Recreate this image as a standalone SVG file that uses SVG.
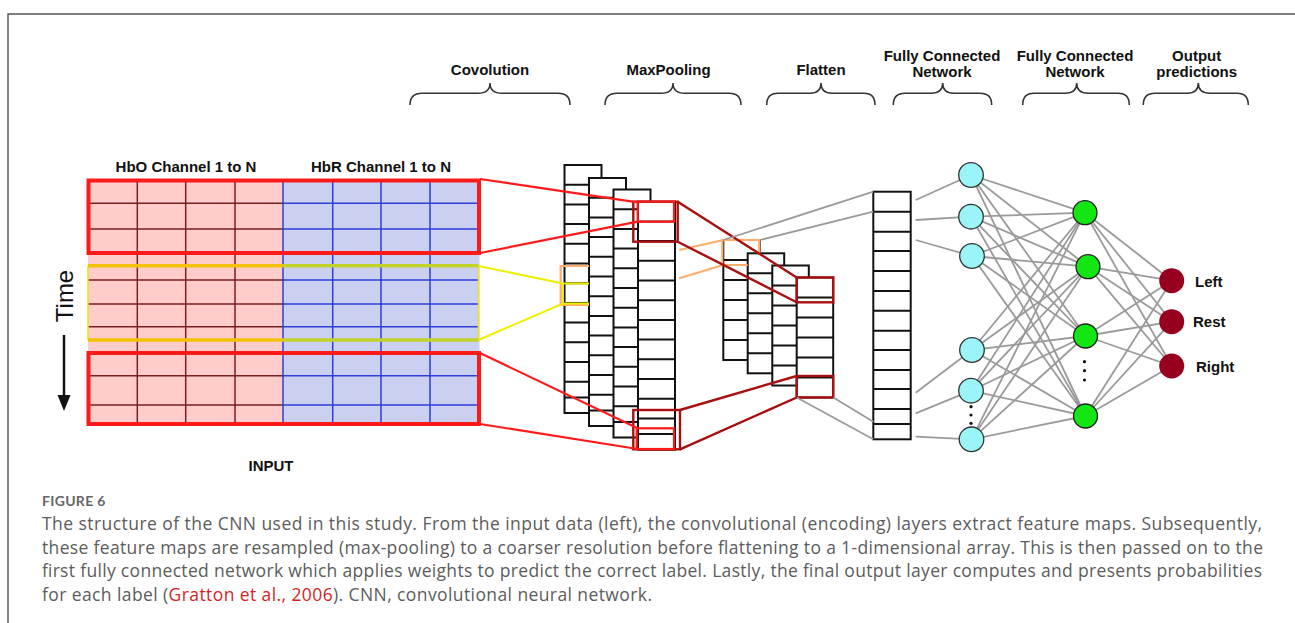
<svg xmlns="http://www.w3.org/2000/svg" xmlns:xlink="http://www.w3.org/1999/xlink" width="1295" height="623" viewBox="0 0 1295 623">
  <style>
    .hdr { font-family: "Liberation Sans", Arial, sans-serif; font-weight: bold; font-size: 15px; fill: #111; text-anchor: middle; }
    .lbl { font-family: "Liberation Sans", Arial, sans-serif; font-weight: bold; font-size: 15px; fill: #111; }
    .brace { fill: none; stroke: #333; stroke-width: 1.5; }
    .cell { fill: #fff; stroke: #111; stroke-width: 2; }
    .row { stroke: #111; stroke-width: 2; }
    .gpink { stroke: #7a1f1f; stroke-width: 1.5; }
    .gblue { stroke: #2b3fd6; stroke-width: 1.5; }
    .red { fill: none; stroke: #ff1a1a; stroke-width: 2.2; }
    .redbox { fill: none; stroke: #ff1a1a; stroke-width: 4; }
    .dred { fill: none; stroke: #a80f0f; stroke-width: 2.4; }
    .ylw { fill: none; stroke: #eeee00; stroke-width: 2; }
    .org { fill: none; stroke: #ffae6a; stroke-width: 2.2; }
    .edge { stroke: #9a9a9a; stroke-width: 1.8; }
    .cyan { fill: #9af4f8; stroke: #333; stroke-width: 1.3; }
    .green { fill: #14e614; stroke: #222; stroke-width: 1.3; }
    .out { fill: #96001e; }
    .dot { fill: #111; }
    .cap { font-family: "Open Sans", Lato, sans-serif; font-size: 17.5px; fill: #5c5c5c; }
  </style>
  <defs>
    <!-- one feature map of the convolution layer: 13 cells -->
    <g id="convmap">
      <rect class="cell" x="0" y="0" width="37" height="248"/>
      <path class="row" d="M0,19.7H37M0,39.4H37M0,59.1H37M0,78.8H37M0,98.5H37M0,118.2H37M0,137.9H37M0,157.6H37M0,177.3H37M0,197H37M0,216.7H37M0,232.4H37"/>
    </g>
    <!-- one pooled map: 6 cells -->
    <g id="poolmap">
      <rect class="cell" x="0" y="0" width="36.5" height="120"/>
      <path class="row" d="M0,20H36.5M0,40H36.5M0,60H36.5M0,80H36.5M0,100H36.5"/>
    </g>
  </defs>

  <rect width="1295" height="623" fill="#fff"/>
  <!-- figure frame -->
  <path d="M8,623V14H1295" fill="none" stroke="#555" stroke-width="1.4"/>

  <!-- layer headings -->
  <g id="headers">
    <text class="hdr" x="490" y="74.5">Covolution</text>
    <path class="brace" d="M410,105Q410,93.3 422,93.3H478Q490,93.3 490,83Q490,93.3 502,93.3H558Q570,93.3 570,105"/>
    <text class="hdr" x="668.5" y="74.5">MaxPooling</text>
    <path class="brace" d="M605,105Q605,93.3 617,93.3H661Q673,93.3 673,83Q673,93.3 685,93.3H729Q741,93.3 741,105"/>
    <text class="hdr" x="821" y="74.5">Flatten</text>
    <path class="brace" d="M766.7,105Q766.7,93.3 778,93.3H810Q821,93.3 821,83Q821,93.3 832,93.3H864Q875,93.3 875,105"/>
    <text class="hdr" x="942" y="61">Fully Connected</text>
    <text class="hdr" x="942" y="77">Network</text>
    <path class="brace" d="M893.3,105Q893.3,93.3 905,93.3H931Q942.7,93.3 942.7,83Q942.7,93.3 954,93.3H980Q991.7,93.3 991.7,105"/>
    <text class="hdr" x="1075" y="61">Fully Connected</text>
    <text class="hdr" x="1075" y="77">Network</text>
    <path class="brace" d="M1022.7,105Q1022.7,93.3 1034,93.3H1065Q1076.7,93.3 1076.7,83Q1076.7,93.3 1088,93.3H1118Q1129.3,93.3 1129.3,105"/>
    <text class="hdr" x="1196.7" y="61">Output</text>
    <text class="hdr" x="1196.7" y="77">predictions</text>
    <path class="brace" d="M1143.3,105Q1143.3,93.3 1155,93.3H1187Q1198.3,93.3 1198.3,83Q1198.3,93.3 1210,93.3H1237Q1248.3,93.3 1248.3,105"/>
  </g>

  <!-- input matrix: HbO and HbR channels over time -->
  <g id="input">
    <text class="lbl" x="186" y="172" text-anchor="middle" font-size="15.8">HbO Channel 1 to N</text>
    <text class="lbl" x="381" y="172" text-anchor="middle" font-size="15.8">HbR Channel 1 to N</text>
    <rect x="88" y="179" width="195" height="245" fill="#ffcccc"/>
    <rect x="283" y="179" width="196.5" height="245" fill="#ccd0f0"/>
    <path class="gpink" d="M137.3,179V424M185.7,179V424M235,179V424M88,203.3H283M88,229H283M88,280H283M88,304H283M88,326.7H283M88,375.7H283M88,405H283"/>
    <path class="gblue" d="M283,179V424M332.7,179V424M381,179V424M430,179V424M283,203.3H479M283,229H479M283,280H479M283,304H479M283,326.7H479M283,375.7H479M283,405H479"/>
    <!-- current convolution window -->
    <path d="M88,265.7V340M478.5,265.7V340" stroke="#e8e800" stroke-width="1.5" fill="none"/>
    <path d="M88,265.7H283M88,340H283" stroke="#f2c200" stroke-width="3.6"/>
    <path d="M283,265.7H478.5M283,340H478.5" stroke="#c2d22a" stroke-width="3.6"/>
    <rect class="redbox" x="88.5" y="180.5" width="390.5" height="72.5"/>
    <rect class="redbox" x="88.5" y="353" width="390.5" height="71"/>
    <text x="0" y="0" transform="translate(73,296) rotate(-90)" text-anchor="middle" font-family="Liberation Sans, Arial, sans-serif" font-size="24" fill="#111">Time</text>
    <path d="M64,335V398" stroke="#111" stroke-width="2.5"/>
    <path d="M57.5,395L64,411L70.5,395Z" fill="#111"/>
    <text class="lbl" x="271" y="471" text-anchor="middle" font-size="14">INPUT</text>
  </g>

  <!-- convolution feature maps -->
  <g id="conv1"><use xlink:href="#convmap" x="564.5" y="165"/></g>
  <g id="conv2"><use xlink:href="#convmap" x="589" y="178"/></g>
  <g id="conv3"><use xlink:href="#convmap" x="613.5" y="189.5"/></g>
  <g id="conv4"><use xlink:href="#convmap" x="638" y="201.7"/></g>

  <!-- max-pooled maps -->
  <g id="pool1"><use xlink:href="#poolmap" x="723.3" y="240"/></g>
  <g id="pool2"><use xlink:href="#poolmap" x="747.7" y="253.3"/></g>
  <g id="pool3"><use xlink:href="#poolmap" x="772.3" y="265.5"/></g>
  <g id="pool4"><use xlink:href="#poolmap" x="796.7" y="277.5"/></g>

  <!-- flattened vector -->
  <g id="flatten">
    <rect class="cell" x="873.3" y="191.7" width="37.4" height="247.6"/>
    <path class="row" d="M873.3,211.7h37.4M873.3,231.7h37.4M873.3,251h37.4M873.3,271h37.4M873.3,291h37.4M873.3,310.7h37.4M873.3,330.7h37.4M873.3,350h37.4M873.3,370h37.4M873.3,389h37.4M873.3,409h37.4M873.3,424h37.4"/>
  </g>

  <!-- connectors between the layers -->
  <g id="connectors">
    <!-- window outlines on the feature maps -->
    <path class="org" d="M589,266H560.7V305H589"/>
    <path class="org" d="M747.7,265H722.3V240H759.3V253.3"/>
    <rect class="dred" x="633.3" y="201.7" width="44.4" height="40"/>
    <rect class="red" x="637.7" y="201.7" width="36.3" height="20" stroke-width="2.6"/>
    <rect class="dred" x="633.3" y="410" width="46.7" height="39.3"/>
    <rect class="red" x="636.7" y="428.3" width="37.3" height="20.7" stroke-width="2.6"/>
    <rect class="dred" x="796.7" y="277.5" width="36.5" height="24.8"/>
    <rect class="dred" x="796.7" y="376" width="36.5" height="21.5"/>

    <!-- input to convolution -->
    <path class="red" d="M480,179L637.7,202.3M480,253L637.7,221.7M480,353L637.7,428.3M480,424L637.7,449"/>
    <path class="ylw" d="M478.5,266L563,283.5H589M478.5,340L563,303.5H589M563,283.5V303.5"/>

    <!-- convolution to pooling -->
    <path class="org" d="M679.3,250L723.3,240M679.3,278.3L723.3,265"/>
    <path class="dred" d="M677.7,201.7L796.7,277.5M677.7,241.7L796.7,302.3M680,410L796.7,376M680,449.3L796.7,397.5"/>

    <!-- pooling to flatten -->
    <path class="edge" fill="none" d="M723.3,240L873.3,191.7M760,240L873.3,211.7M796.7,397.5L873.3,439.3M833.3,397.5L873.3,421.7"/>

    <!-- flatten to first dense layer -->
    <line class="edge" x1="915.7" y1="200" x2="971" y2="175"/>
    <line class="edge" x1="915.7" y1="220" x2="971" y2="216.7"/>
    <line class="edge" x1="915.7" y1="240" x2="972" y2="256"/>
    <line class="edge" x1="915.7" y1="392.7" x2="972" y2="350"/>
    <line class="edge" x1="915.7" y1="413.3" x2="971" y2="390.7"/>
    <line class="edge" x1="915.7" y1="436.7" x2="971.5" y2="439.3"/>

    <!-- first dense layer to second dense layer -->
    <line class="edge" x1="971" y1="175" x2="1085" y2="212.7"/>
    <line class="edge" x1="971" y1="175" x2="1088" y2="266.7"/>
    <line class="edge" x1="971" y1="175" x2="1085.5" y2="336"/>
    <line class="edge" x1="971" y1="175" x2="1085.5" y2="416"/>
    <line class="edge" x1="971" y1="216.7" x2="1085" y2="212.7"/>
    <line class="edge" x1="971" y1="216.7" x2="1088" y2="266.7"/>
    <line class="edge" x1="971" y1="216.7" x2="1085.5" y2="336"/>
    <line class="edge" x1="971" y1="216.7" x2="1085.5" y2="416"/>
    <line class="edge" x1="972" y1="256" x2="1085" y2="212.7"/>
    <line class="edge" x1="972" y1="256" x2="1088" y2="266.7"/>
    <line class="edge" x1="972" y1="256" x2="1085.5" y2="336"/>
    <line class="edge" x1="972" y1="256" x2="1085.5" y2="416"/>
    <line class="edge" x1="972" y1="350" x2="1085" y2="212.7"/>
    <line class="edge" x1="972" y1="350" x2="1088" y2="266.7"/>
    <line class="edge" x1="972" y1="350" x2="1085.5" y2="336"/>
    <line class="edge" x1="972" y1="350" x2="1085.5" y2="416"/>
    <line class="edge" x1="971" y1="390.7" x2="1085" y2="212.7"/>
    <line class="edge" x1="971" y1="390.7" x2="1088" y2="266.7"/>
    <line class="edge" x1="971" y1="390.7" x2="1085.5" y2="336"/>
    <line class="edge" x1="971" y1="390.7" x2="1085.5" y2="416"/>
    <line class="edge" x1="971.5" y1="439.3" x2="1085" y2="212.7"/>
    <line class="edge" x1="971.5" y1="439.3" x2="1088" y2="266.7"/>
    <line class="edge" x1="971.5" y1="439.3" x2="1085.5" y2="336"/>
    <line class="edge" x1="971.5" y1="439.3" x2="1085.5" y2="416"/>

    <!-- second dense layer to outputs -->
    <line class="edge" x1="1085" y1="212.7" x2="1171.7" y2="280.7"/>
    <line class="edge" x1="1085" y1="212.7" x2="1171.7" y2="321.7"/>
    <line class="edge" x1="1085" y1="212.7" x2="1171.7" y2="366"/>
    <line class="edge" x1="1088" y1="266.7" x2="1171.7" y2="280.7"/>
    <line class="edge" x1="1088" y1="266.7" x2="1171.7" y2="321.7"/>
    <line class="edge" x1="1088" y1="266.7" x2="1171.7" y2="366"/>
    <line class="edge" x1="1085.5" y1="336" x2="1171.7" y2="280.7"/>
    <line class="edge" x1="1085.5" y1="336" x2="1171.7" y2="321.7"/>
    <line class="edge" x1="1085.5" y1="336" x2="1171.7" y2="366"/>
    <line class="edge" x1="1085.5" y1="416" x2="1171.7" y2="280.7"/>
    <line class="edge" x1="1085.5" y1="416" x2="1171.7" y2="321.7"/>
    <line class="edge" x1="1085.5" y1="416" x2="1171.7" y2="366"/>
  </g>

  <!-- first fully connected layer -->
  <g id="fc1">
    <circle class="cyan" cx="971" cy="175" r="12.3"/>
    <circle class="cyan" cx="971" cy="216.7" r="12.3"/>
    <circle class="cyan" cx="972" cy="256" r="12.3"/>
    <circle class="cyan" cx="972" cy="350" r="12.3"/>
    <circle class="cyan" cx="971" cy="390.7" r="12.3"/>
    <circle class="cyan" cx="971.5" cy="439.3" r="12.3"/>
    <circle class="dot" cx="971" cy="406.7" r="1.6"/>
    <circle class="dot" cx="971" cy="415" r="1.6"/>
    <circle class="dot" cx="971" cy="423.3" r="1.6"/>
  </g>

  <!-- second fully connected layer -->
  <g id="fc2">
    <circle class="green" cx="1085" cy="212.7" r="12"/>
    <circle class="green" cx="1088" cy="266.7" r="12"/>
    <circle class="green" cx="1085.5" cy="336" r="12"/>
    <circle class="green" cx="1085.5" cy="416" r="12"/>
    <circle class="dot" cx="1084.5" cy="361.7" r="1.6"/>
    <circle class="dot" cx="1084.5" cy="370.7" r="1.6"/>
    <circle class="dot" cx="1084.5" cy="380" r="1.6"/>
  </g>

  <!-- output predictions -->
  <g id="out-left">
    <circle class="out" cx="1171.7" cy="280.7" r="12.5"/>
    <text class="lbl" x="1195" y="287" font-size="14.5">Left</text>
  </g>
  <g id="out-rest">
    <circle class="out" cx="1171.7" cy="321.7" r="12.5"/>
    <text class="lbl" x="1193" y="327" font-size="14.5">Rest</text>
  </g>
  <g id="out-right">
    <circle class="out" cx="1171.7" cy="366" r="12.5"/>
    <text class="lbl" x="1196" y="372" font-size="14.5">Right</text>
  </g>

  <!-- caption -->
  <g id="caption">
    <text x="42" y="506" font-family="Lato, 'Open Sans', sans-serif" font-size="14" font-weight="bold" fill="#666" letter-spacing="0.3">FIGURE 6</text>
    <text class="cap" x="42" y="530" textLength="1220" lengthAdjust="spacing">The structure of the CNN used in this study. From the input data (left), the convolutional (encoding) layers extract feature maps. Subsequently,</text>
    <text class="cap" x="42" y="553.5" textLength="1221" lengthAdjust="spacing">these feature maps are resampled (max-pooling) to a coarser resolution before flattening to a 1-dimensional array. This is then passed on to the</text>
    <text class="cap" x="42" y="577" textLength="1220" lengthAdjust="spacing">first fully connected network which applies weights to predict the correct label. Lastly, the final output layer computes and presents probabilities</text>
    <text class="cap" x="42" y="600.5" textLength="610" lengthAdjust="spacing">for each label (<tspan fill="#d61f26">Gratton et al., 2006</tspan>). CNN, convolutional neural network.</text>
  </g>
</svg>
